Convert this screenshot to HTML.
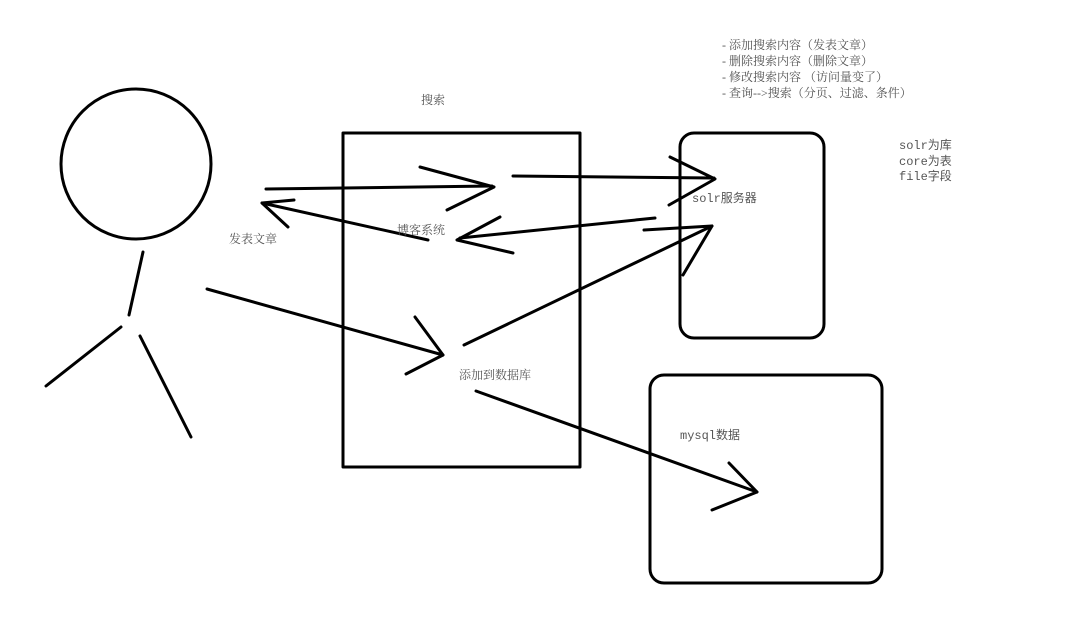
<!DOCTYPE html>
<html><head><meta charset="utf-8"><style>
body{margin:0;background:#fff;width:1079px;height:627px;overflow:hidden}
svg{display:block}
text{font-family:"Liberation Serif","Noto Serif CJK SC",serif;fill:#555;font-size:12px}
.m{font-family:"Liberation Mono","Noto Sans CJK SC",monospace}
</style></head><body>
<svg width="1079" height="627" viewBox="0 0 1079 627" fill="none" stroke="#000" stroke-width="3" stroke-linecap="round" stroke-linejoin="round">
<circle cx="136" cy="164" r="75"/>
<line x1="143" y1="252" x2="129" y2="315"/>
<line x1="121" y1="327" x2="46" y2="386"/>
<line x1="140" y1="336" x2="191" y2="437"/>
<rect x="343" y="133" width="237" height="334"/>
<rect x="680" y="133" width="144" height="205" rx="14"/>
<rect x="650" y="375" width="232" height="208" rx="14"/>
<!-- arrow 1 -->
<line x1="266" y1="189" x2="492" y2="186"/>
<polyline points="420,167 494,187 447,210"/>
<!-- arrow 2 -->
<line x1="513" y1="176" x2="714" y2="178"/>
<polyline points="670,157 715,179 669,205"/>
<!-- arrow 3 back -->
<line x1="655" y1="218" x2="460" y2="238"/>
<polyline points="500,217 457,240 513,253"/>
<!-- arrow 4 back -->
<line x1="428" y1="240" x2="262" y2="203"/>
<polyline points="294,200 262,203 288,227"/>
<!-- arrow 5 -->
<line x1="207" y1="289" x2="443" y2="355"/>
<polyline points="415,317 443,355 406,374"/>
<!-- arrow 6 -->
<line x1="464" y1="345" x2="712" y2="226"/>
<polyline points="644,230 712,226 683,275"/>
<!-- arrow 7 -->
<line x1="476" y1="391" x2="757" y2="492"/>
<polyline points="729,463 757,492 712,510"/>
<g stroke="none">
<text x="421" y="104">搜索</text>
<text x="229" y="243">发表文章</text>
<text x="397" y="234">博客系统</text>
<text x="692" y="202" class="m">solr服务器</text>
<text x="459" y="379">添加到数据库</text>
<text x="680" y="439" class="m">mysql数据</text>
<g font-size="11">
<text x="722" y="49" font-size="11">- 添加搜索内容（发表文章）</text>
<text x="722" y="65" font-size="11">- 删除搜索内容（删除文章）</text>
<text x="722" y="81" font-size="11">- 修改搜索内容 （访问量变了）</text>
<text x="722" y="97" font-size="11">- 查询-->搜索（分页、过滤、条件）</text>
</g>
<text x="899" y="149" class="m" font-size="11">solr为库</text>
<text x="899" y="165" class="m" font-size="11">core为表</text>
<text x="899" y="180" class="m" font-size="11">file字段</text>
</g>
</svg>
</body></html>
